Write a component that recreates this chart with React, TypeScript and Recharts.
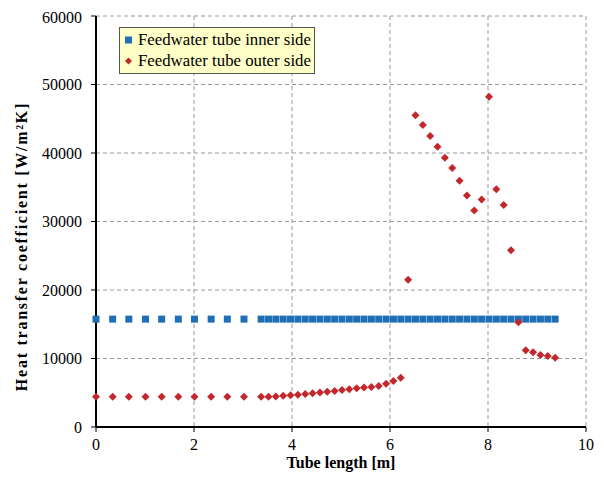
import React from "react";
import { ScatterChart, Scatter, XAxis, YAxis, CartesianGrid, Legend } from "recharts";

const innerX = [0, 0.34, 0.67, 1.01, 1.34, 1.68, 2.01, 2.35, 2.68, 3.02,
  3.37, 3.52, 3.67, 3.82, 3.97, 4.12, 4.27, 4.42, 4.57, 4.72, 4.87, 5.02, 5.17, 5.32, 5.47, 5.62, 5.77, 5.92, 6.07, 6.22,
  6.37, 6.52, 6.67, 6.82, 6.97, 7.12, 7.27, 7.42, 7.57, 7.72, 7.87, 8.02, 8.17, 8.32, 8.47, 8.62, 8.77, 8.92, 9.07, 9.22, 9.37];
const innerY = innerX.map(() => 15750);

const outerX = innerX;
const outerY = [4400, 4400, 4400, 4400, 4400, 4400, 4400, 4400, 4400, 4400,
  4400, 4400, 4450, 4550, 4620, 4720, 4800, 4910, 5030, 5160, 5250, 5400, 5500, 5650, 5750, 5850, 6000, 6330, 6720, 7200,
  21500, 45500, 44100, 42500, 40900, 39300, 37800, 35950, 33800, 31600, 33200, 48200, 34700, 32400, 25800, 15300, 11200, 10900, 10500, 10350, 10100];

const xTicks = [0, 2, 4, 6, 8, 10];
const yTicks = [0, 10000, 20000, 30000, 40000, 50000, 60000];

const innerData = innerX.map((x, i) => ({ x, y: innerY[i] }));
const outerData = outerX.map((x, i) => ({ x, y: outerY[i] }));

const BLUE = "#1f6fb6";
const RED = "#c3262b";
const FONT = "'Liberation Serif', 'Times New Roman', serif";

const Square = (p: any) => (
  <rect x={p.cx - 3.5} y={p.cy - 3.5} width={7} height={7} fill={BLUE} />
);
const Diamond = (p: any) => (
  <polygon
    points={`${p.cx},${p.cy - 4} ${p.cx + 4},${p.cy} ${p.cx},${p.cy + 4} ${p.cx - 4},${p.cy}`}
    fill={RED}
  />
);

const LegendBox = () => (
  <div
    style={{
      background: "#ffffc8",
      border: "1px solid #555",
      padding: "1px 3px 2px 5px",
      fontFamily: FONT,
      fontSize: 16.8,
      lineHeight: "21px",
      color: "#000",
      whiteSpace: "nowrap",
    }}
  >
    <div style={{ display: "flex", alignItems: "center" }}>
      <svg width={8} height={10} style={{ marginRight: 5 }}>
        <rect x={0} y={1.5} width={7} height={7} fill={BLUE} />
      </svg>
      Feedwater tube inner side
    </div>
    <div style={{ display: "flex", alignItems: "center" }}>
      <svg width={8} height={10} style={{ marginRight: 5 }}>
        <polygon points="3.5,1.5 7,5 3.5,8.5 0,5" fill={RED} />
      </svg>
      Feedwater tube outer side
    </div>
  </div>
);

const YLabel = (props: any) => {
  const vb = props.viewBox || {};
  const cy = vb.y + vb.height / 2 + 25;
  const cx = 13;
  return (
    <text
      x={cx}
      y={cy}
      transform={`rotate(-90, ${cx}, ${cy})`}
      textAnchor="middle"
      dominantBaseline="central"
      fontFamily={FONT}
      fontWeight="bold"
      fontSize={16}
      letterSpacing={1.75}
      fill="#000"
    >
      Heat transfer coefficient [W/m²K]
    </text>
  );
};

export default function App() {
  return (
    <div style={{ width: 596, height: 469 }}>
      <ScatterChart width={596} height={469} margin={{ top: 8, right: 18, left: 0, bottom: 20 }}>
        <CartesianGrid stroke="#999" strokeDasharray="4 3" />
        <XAxis
          type="number"
          dataKey="x"
          domain={[0, 10]}
          ticks={xTicks}
          tickSize={5}
          tickMargin={7}
          height={30}
          stroke="#000"
          axisLine={{ strokeWidth: 2, stroke: "#000" }}
          tick={{ fill: "#000", fontFamily: FONT, fontSize: 16 }}
          label={{ value: "Tube length [m]", position: "bottom", offset: 0, style: { fontFamily: FONT, fontWeight: "bold", fontSize: 16, fill: "#000" } }}
        />
        <YAxis
          type="number"
          dataKey="y"
          domain={[0, 60000]}
          ticks={yTicks}
          width={88}
          tickSize={5}
          tickMargin={9}
          stroke="#000"
          axisLine={{ strokeWidth: 2, stroke: "#000" }}
          tick={{ fill: "#000", fontFamily: FONT, fontSize: 16 }}
          label={<YLabel />}
        />
        <Legend
          layout="vertical"
          verticalAlign="middle"
          align="center"
          wrapperStyle={{ top: 19, left: 111, width: "auto", height: "auto" }}
          content={() => <LegendBox />}
        />
        <Scatter name="Feedwater tube inner side" data={innerData} fill={BLUE} shape={Square} isAnimationActive={false} />
        <Scatter name="Feedwater tube outer side" data={outerData} fill={RED} shape={Diamond} isAnimationActive={false} />
      </ScatterChart>
    </div>
  );
}
